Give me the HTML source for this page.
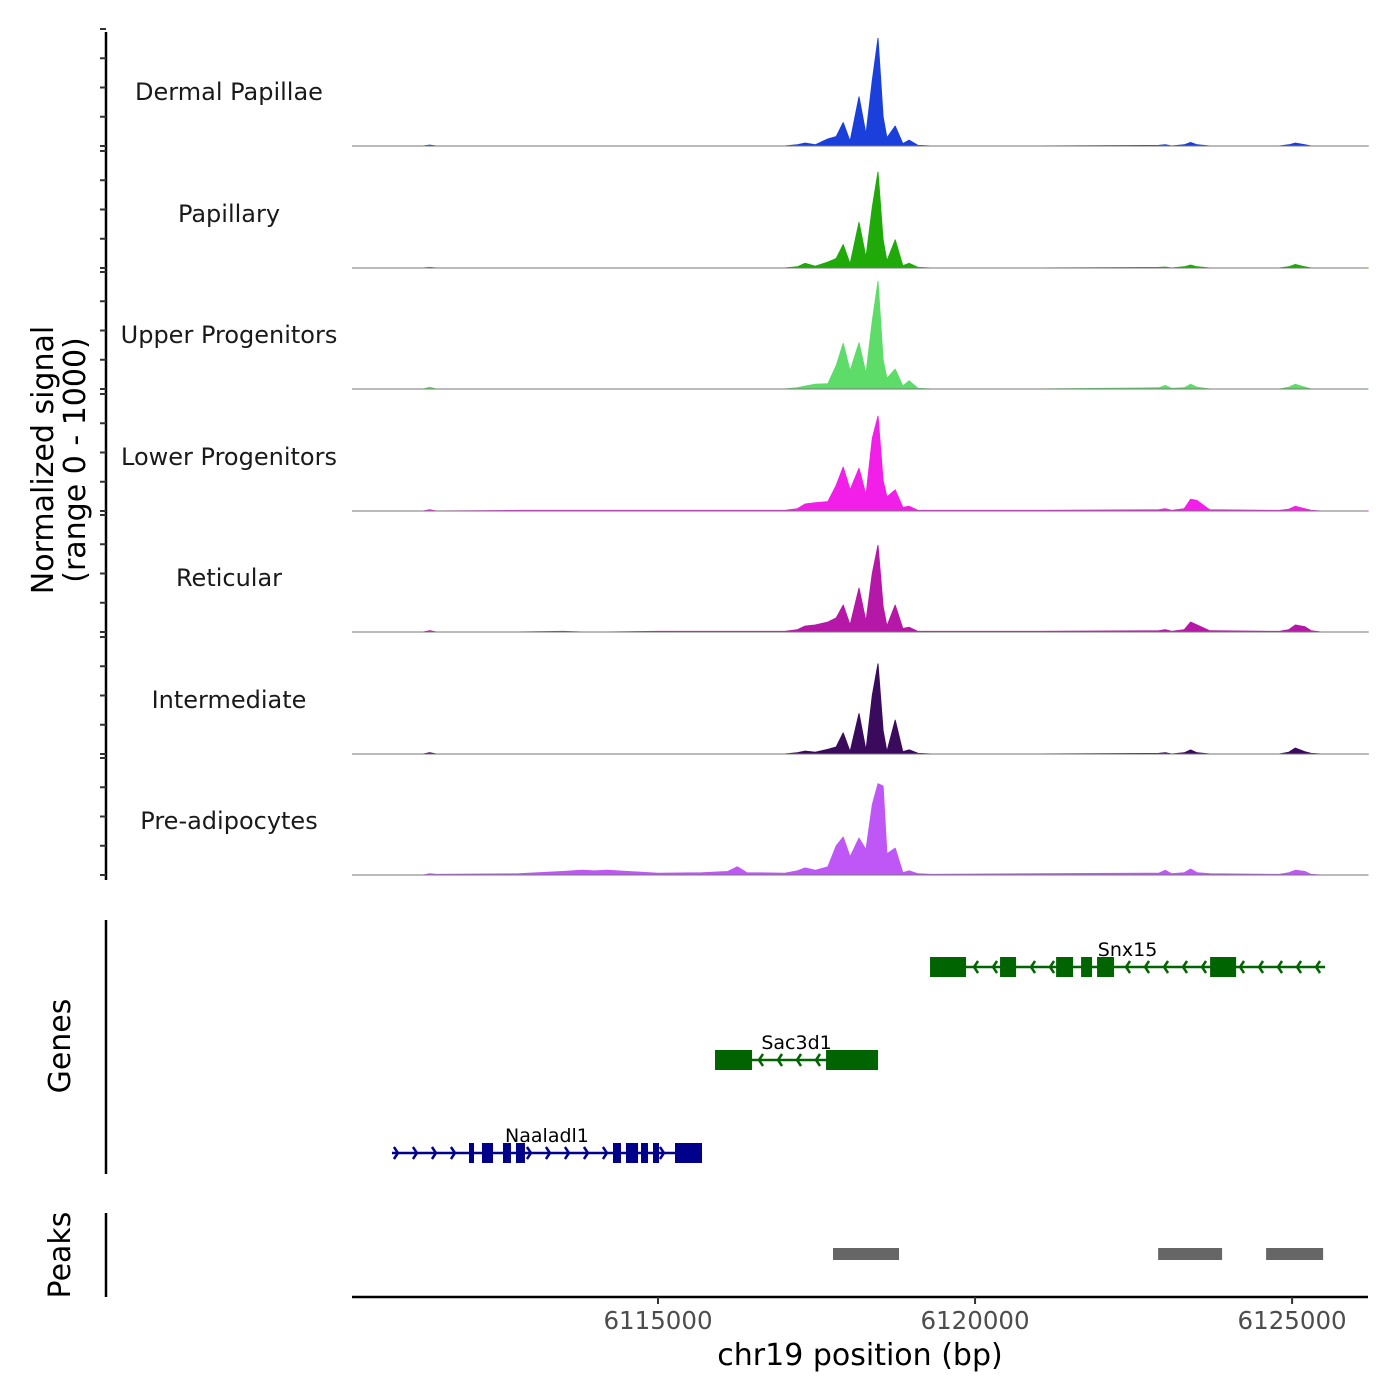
<!DOCTYPE html>
<html><head><meta charset="utf-8"><style>
html,body{margin:0;padding:0;background:#fff}
svg{display:block;font-family:"DejaVu Sans","Liberation Sans",sans-serif}
</style></head><body>
<svg id="chart" width="1400" height="1400" viewBox="0 0 1400 1400" xmlns="http://www.w3.org/2000/svg">
<g id="tracks"></g>
<g id="yaxis"></g>
<text transform="translate(53,460) rotate(-90)" text-anchor="middle" font-size="30" fill="#000">Normalized signal</text>
<text transform="translate(85,460) rotate(-90)" text-anchor="middle" font-size="30" fill="#000">(range 0 - 1000)</text>
<g id="genes"></g>
<line x1="106" y1="920" x2="106" y2="1174" stroke="#000" stroke-width="2.5"/>
<text transform="translate(70,1046) rotate(-90)" text-anchor="middle" font-size="30">Genes</text>
<g id="peaks"></g>
<line x1="106" y1="1213" x2="106" y2="1297" stroke="#000" stroke-width="2.5"/>
<text transform="translate(70,1255) rotate(-90)" text-anchor="middle" font-size="30">Peaks</text>
<g id="xaxis"></g>
<text x="860" y="1365" text-anchor="middle" font-size="30">chr19 position (bp)</text>
</svg>
<script>
const positions=[6110200,6111300,6111400,6111500,6112800,6113500,6113800,6114000,6114200,6115000,6115700,6116100,6116250,6116400,6117000,6117200,6117320,6117480,6117680,6117810,6117920,6118030,6118170,6118280,6118380,6118470,6118550,6118610,6118740,6118860,6118960,6119100,6119300,6121000,6122900,6123000,6123100,6123300,6123400,6123500,6123700,6124800,6124950,6125050,6125200,6125300,6125450,6126200];
const trackNames=["Dermal Papillae","Papillary","Upper Progenitors","Lower Progenitors","Reticular","Intermediate","Pre-adipocytes"];
const trackColors=["#1A3FDB","#1FAA0A","#5EDC6A","#F21FE8","#B517A6","#3A0B5C","#BF57F7"];
const dermalPapillae=[0,0,8,0,0,0,0,0,0,0,0,0,0,0,0,10,25,10,60,80,200,40,420,100,560,920,250,70,170,20,50,5,0,0,5,10,0,10,30,10,0,0,10,25,10,0,0,0];
const papillary=[0,0,5,0,0,0,0,0,0,0,0,0,0,0,0,10,40,15,50,80,200,35,390,90,520,820,240,60,240,20,40,5,0,0,5,8,0,10,25,10,0,0,10,30,10,0,0,0];
const upperProgenitors=[0,0,15,0,0,0,0,0,0,0,0,0,0,0,0,10,25,40,45,200,390,155,395,130,580,920,250,90,170,25,70,5,0,0,10,30,5,10,40,15,0,0,15,40,15,0,0,0];
const lowerProgenitors=[0,0,10,0,5,5,5,5,5,5,5,5,5,5,5,20,60,70,80,220,375,180,365,135,620,810,260,120,180,30,40,5,5,5,10,20,5,20,100,90,10,5,15,40,20,5,0,0];
const reticular=[0,0,10,0,0,5,0,0,0,5,5,5,5,5,5,20,50,60,85,120,230,60,375,90,500,740,220,50,230,30,40,5,5,5,10,20,5,20,85,60,10,5,20,60,45,10,0,0];
const intermediate=[0,0,10,0,0,0,0,0,0,0,0,0,0,0,0,10,25,15,40,60,180,20,345,30,500,770,200,20,290,20,35,5,0,0,5,10,0,10,35,10,0,0,15,50,20,5,0,0];
const preAdipocytes=[0,0,10,5,10,30,40,35,40,15,20,30,70,20,15,35,60,40,70,250,325,155,315,215,600,780,760,180,230,20,35,10,5,10,15,40,10,20,50,20,10,5,20,40,30,5,0,0];
const trackValues=[dermalPapillae,papillary,upperProgenitors,lowerProgenitors,reticular,intermediate,preAdipocytes];
const xTicks=[6115000,6120000,6125000];
const yTicks=[0,250,500,750,1000];
const genes=[
 {name:"Snx15",strand:"-",start:6119290,end:6125520,row:0,color:"#006400",exons:[[6119290,6119858],[6120394,6120647],[6121278,6121546],[6121672,6121845],[6121924,6122192],[6123707,6124117]]},
 {name:"Sac3d1",strand:"-",start:6115899,end:6118470,row:1,color:"#006400",exons:[[6115899,6116483],[6117650,6118470]]},
 {name:"Naaladl1",strand:"+",start:6110804,end:6115694,row:2,color:"#00008B",exons:[[6112019,6112098],[6112224,6112398],[6112555,6112681],[6112760,6112902],[6114290,6114416],[6114495,6114685],[6114732,6114842],[6114921,6115016],[6115268,6115694]]}
];
const peakStarts=[6117760,6122887,6124590];
const peakEnds=[6118801,6123896,6125489];

const NS="http://www.w3.org/2000/svg";
const X0=352,X1=1368,BP0=6110174,BP1=6126197;
function xs(bp){return X0+(bp-BP0)/(BP1-BP0)*(X1-X0);}
const baselines=[146,268,389,511,632,754,875];
function ys(i,v){return baselines[i]-v*0.117;}
function mk(tag,attrs,parent){const e=document.createElementNS(NS,tag);for(const k in attrs)e.setAttribute(k,attrs[k]);parent.appendChild(e);return e;}
const gT=document.getElementById('tracks');
trackValues.forEach((vals,i)=>{
 let d="M"+xs(positions[0])+","+baselines[i];
 positions.forEach((p,j)=>{d+=" L"+xs(p).toFixed(1)+","+ys(i,vals[j]).toFixed(1);});
 d+=" L"+xs(positions[positions.length-1])+","+baselines[i]+" Z";
 const a=mk('path',{d:d,fill:trackColors[i],stroke:trackColors[i],'stroke-width':1,'stroke-linejoin':'round'},gT);
 
 
 const bl=mk('line',{x1:X0,x2:X1,y1:baselines[i],y2:baselines[i],stroke:"#777",'stroke-width':1},gT);
 
 
 const t=mk('text',{x:229,y:baselines[i]-46,'text-anchor':'middle','font-size':24,fill:"#1a1a1a"},gT);
 t.textContent=trackNames[i];
 
 
});
const gY=document.getElementById('yaxis');
mk('line',{x1:106,x2:106,y1:32,y2:880,stroke:"#000",'stroke-width':2.5},gY);
baselines.forEach((b,i)=>{yTicks.forEach(v=>{
 const tk=mk('line',{x1:100,x2:106,y1:ys(i,v),y2:ys(i,v),stroke:"#333",'stroke-width':2},gY);
 
 
});});
const gG=document.getElementById('genes');
const rowY=[967,1060,1153];
function chevron(x,y,dir,color,parent){
 const s=dir==="+"?1:-1;
 const c=mk('polyline',{points:(x-4*s)+","+(y-6)+" "+x+","+y+" "+(x-4*s)+","+(y+6),fill:"none",stroke:color,'stroke-width':2.5},parent);
 
 
}
genes.forEach(g=>{
 const y=rowY[g.row];
 const grp=mk('g',{},gG);
 
 
 mk('line',{x1:xs(g.start),x2:xs(g.end),y1:y,y2:y,stroke:g.color,'stroke-width':2.5},grp);
 const x0=xs(g.start),x1=xs(g.end);
 for(let x=x0+6;x<=x1+1;x+=19){
  const inEx=g.exons.some(e=>x>=xs(e[0])-2&&x<=xs(e[1])+2);
  if(!inEx)chevron(x,y,g.strand,g.color,grp);
 }
 g.exons.forEach(e=>{
  const r=mk('rect',{x:xs(e[0]),y:y-10,width:Math.max(3,xs(e[1])-xs(e[0])),height:20,fill:g.color},grp);
  
  
 });
 const t=mk('text',{x:(x0+x1)/2,y:y-11,'text-anchor':'middle','font-size':19,fill:"#000"},grp);
 t.textContent=g.name;
 
 
});
const gP=document.getElementById('peaks');
peakStarts.forEach((s,i)=>{
 const r=mk('rect',{x:xs(s),y:1248,width:xs(peakEnds[i])-xs(s),height:12,fill:"#666"},gP);
 
 
});
const gX=document.getElementById('xaxis');
mk('line',{x1:X0,x2:X1,y1:1297,y2:1297,stroke:"#000",'stroke-width':2.5},gX);
xTicks.forEach(v=>{
 const tk=mk('line',{x1:xs(v),x2:xs(v),y1:1297,y2:1304,stroke:"#333",'stroke-width':2},gX);
 
 
 const t=mk('text',{x:xs(v),y:1329,'text-anchor':'middle','font-size':24.5,fill:"#4d4d4d"},gX);
 t.textContent=v;
 
 
});
</script>
</body></html>
